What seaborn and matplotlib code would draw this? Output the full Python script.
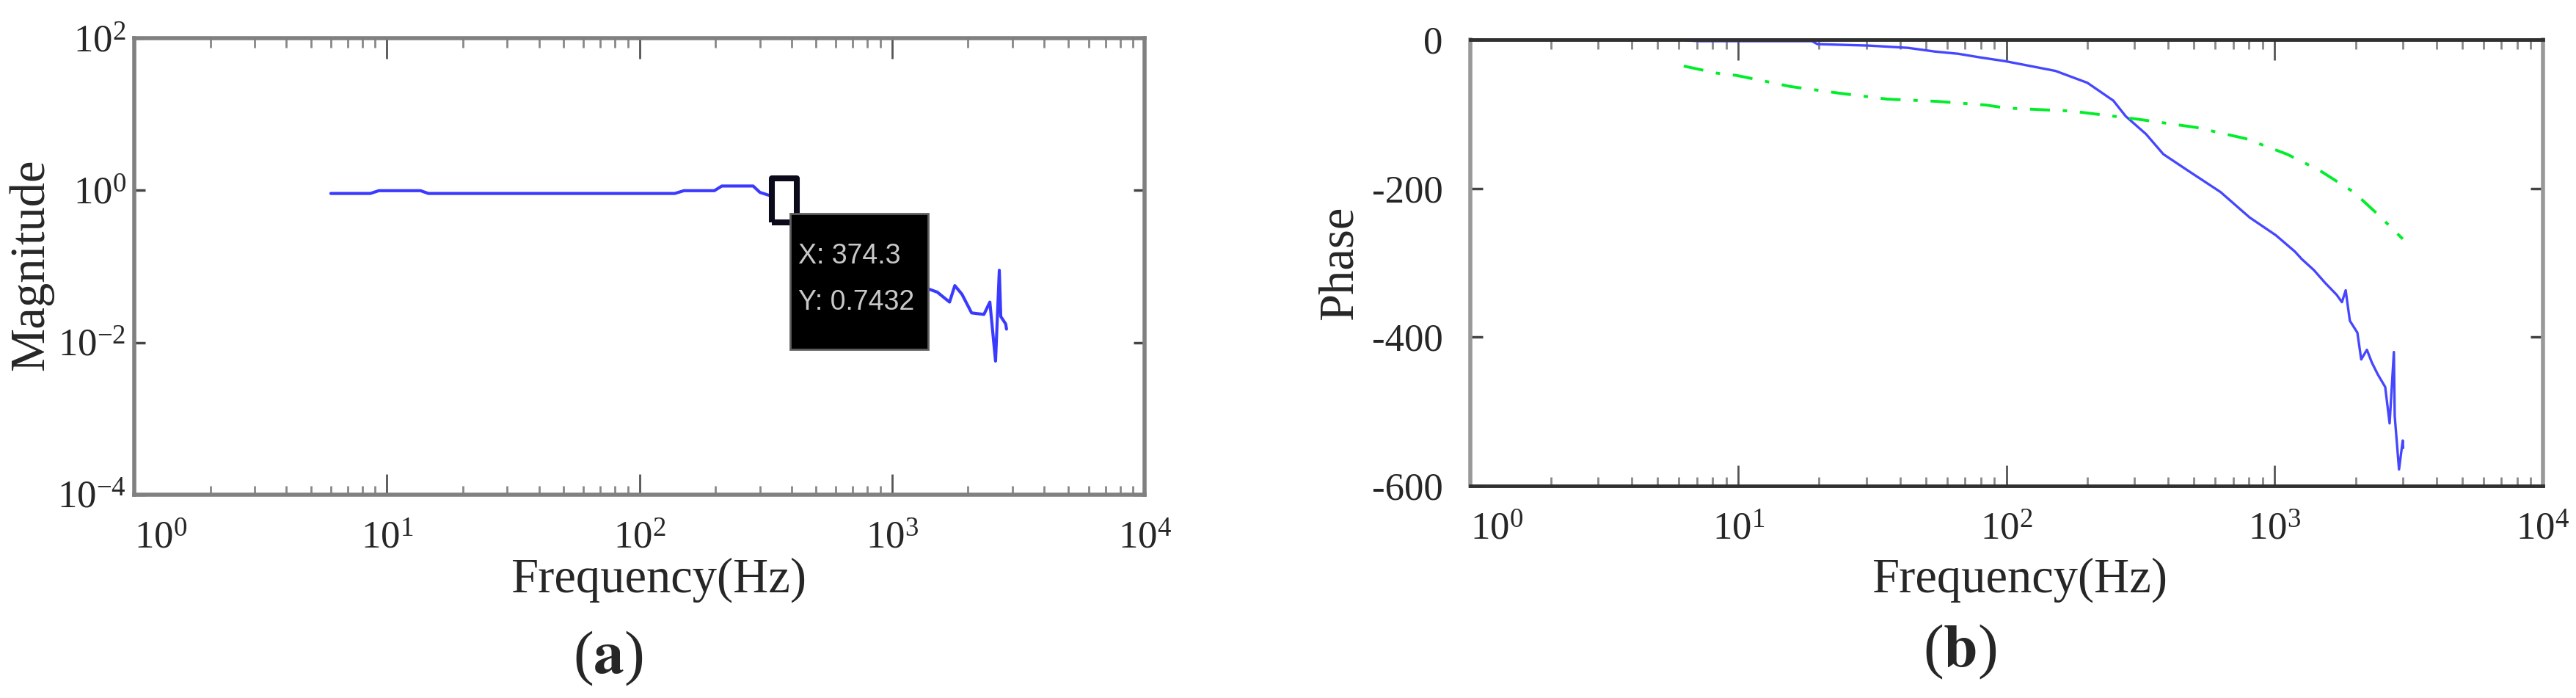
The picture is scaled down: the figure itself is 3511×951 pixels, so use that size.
import matplotlib
matplotlib.use("Agg")
import numpy as np
import matplotlib.pyplot as plt
import matplotlib.ticker as mticker
from matplotlib.patches import Rectangle
import seaborn as sns

# ---- data ----
# (a) magnitude response
mag_freq = [6.0, 8.6, 9.3, 13.6, 14.6, 138, 150, 198, 212, 282, 300, 374.3, 420, 480,
            650, 950, 1340, 1510, 1690, 1773, 1893, 2066, 2312, 2440, 2570, 2660, 2695,
            2820, 2840]
mag_vals = [0.91, 0.91, 0.99, 0.99, 0.91, 0.91, 0.99, 0.99, 1.14, 1.14, 0.94, 0.7432, 0.5, 0.4,
            0.2, 0.09, 0.053, 0.046, 0.034, 0.056, 0.043, 0.0245, 0.0234, 0.034, 0.0057, 0.089, 0.022,
            0.0175, 0.015]
tip_x = 374.3
tip_y = 0.7432

# (b) phase response, measured (blue) and model (green)
ph_freq = [6.4, 7.2, 18.8, 19.7, 30.6, 42.8, 54, 66, 80, 99, 152, 200, 250, 278, 331, 384,
           474, 628, 805, 1009, 1189, 1260, 1400, 1540, 1700, 1780, 1838, 1860, 1905, 2032,
           2100, 2205, 2300, 2420, 2580, 2680, 2780, 2800, 2905, 3000, 3010]
ph_vals = [-1, -2, -2, -6, -8, -11, -16, -19, -24, -29, -42, -58, -82, -103, -127, -154,
           -176, -205, -239, -263, -285, -295, -310, -327, -343, -353, -337, -351, -378, -394,
           -430, -417, -434, -450, -467, -516, -420, -506, -578, -539, -549]
model_freq = [6.25, 8.3, 9.8, 12.6, 15.6, 23.8, 36, 55, 84, 100, 174, 309, 508, 777, 1110,
              1472, 1969, 2440, 3000]
model_vals = [-35.5, -45, -48, -56, -63, -72, -80, -83, -88, -92, -96, -107, -118, -133, -154,
              -176, -205, -236, -268]

x_ticks = [1, 10, 100, 1000, 10000]
mag_ticks = [1e-4, 1e-2, 1, 1e2]
ph_ticks = [-600, -400, -200, 0]

sns.set_style("white")
plt.rcParams["font.family"] = ["Liberation Serif", "DejaVu Serif"]
plt.rcParams["mathtext.fontset"] = "stix"
plt.rcParams["axes.unicode_minus"] = False

fig = plt.figure(figsize=(35.12, 9.51), dpi=100)
ax1 = fig.add_axes([0.0521, 0.2913, 0.3921, 0.6540])
ax2 = fig.add_axes([0.5706, 0.3039, 0.4163, 0.6393])

sns.lineplot(x=mag_freq, y=mag_vals, ax=ax1, color="#3a3aff", lw=3,
             estimator=None, sort=False)
sns.lineplot(x=ph_freq, y=ph_vals, ax=ax2, color="#4646ff", lw=2.4,
             estimator=None, sort=False)
sns.lineplot(x=model_freq, y=model_vals, ax=ax2, color="#00ee2a", lw=2.8,
             linestyle=(0, (7, 4.5, 1.5, 4.5)), estimator=None, sort=False)

# data tip marker + box
rect_marker = [(-0.58, -1), (0.58, -1), (0.58, 1), (-0.58, 1), (-0.58, -1)]
ax1.plot([tip_x], [tip_y], marker=rect_marker, ms=43, mfc="white", mec="#0a0a1a",
         mew=5.8, zorder=5)
ax1.add_patch(Rectangle((0.649, 0.319), 0.137, 0.296, transform=ax1.transAxes,
                        fc="black", ec="#606060", lw=2, zorder=6))
tip_kw = dict(transform=ax1.transAxes, color="#c8c8c8", fontsize=27,
              family=["Liberation Sans", "DejaVu Sans"], va="center", ha="left", zorder=7)
ax1.text(0.657, 0.522, f"X: {tip_x}", **tip_kw)
ax1.text(0.657, 0.421, f"Y: {tip_y}", **tip_kw)

ax1.set_xscale("log")
ax1.set_yscale("log")
ax1.set_xlim(1, 1e4)
ax1.set_ylim(1e-4, 1e2)
ax1.set_yticks(mag_ticks)
ax1.yaxis.set_minor_locator(mticker.NullLocator())

ax2.set_xscale("log")
ax2.set_xlim(1, 1e4)
ax2.set_ylim(-600, 0)
ax2.set_yticks(ph_ticks)

for ax in (ax1, ax2):
    ax.set_xticks(x_ticks)
    ax.xaxis.set_minor_locator(mticker.LogLocator(base=10, subs=np.arange(2, 10)))
    ax.xaxis.set_minor_formatter(mticker.NullFormatter())
    ax.tick_params(axis="x", which="major", direction="in", top=True, bottom=True,
                   length=20, width=2, color="#555555", labelsize=38, pad=26)
    ax.tick_params(axis="x", which="minor", direction="in", top=True, bottom=True,
                   length=9, width=2, color="#888888")

ax1.tick_params(axis="y", which="major", direction="in", left=True, right=True,
                length=11, width=2.5, color="#444444", labelsize=38, pad=8)
ax2.tick_params(axis="y", which="major", direction="in", left=True, right=True,
                length=12, width=2.5, color="#444444", labelsize=38, pad=27)

for s in ax1.spines.values():
    s.set_color("#808080")
    s.set_linewidth(4)
for side in ("left", "right"):
    ax2.spines[side].set_color("#999999")
    ax2.spines[side].set_linewidth(4)
for side in ("top", "bottom"):
    ax2.spines[side].set_color("#303030")
    ax2.spines[side].set_linewidth(3.5)

ax1.set_ylabel("Magnitude", fontsize=48)
ax1.yaxis.set_label_coords(-0.080, 0.503)
ax1.set_xlabel("Frequency(Hz)", fontsize=48)
ax1.xaxis.set_label_coords(0.519, -0.137)
ax2.set_ylabel("Phase", fontsize=48)
ax2.yaxis.set_label_coords(-0.101, 0.50)
ax2.set_xlabel("Frequency(Hz)", fontsize=48)
ax2.xaxis.set_label_coords(0.512, -0.160)

for ax in (ax1, ax2):
    ax.get_xticklabels()[0].set_horizontalalignment("left")

fig.text(0.236, 0.056, r"($\mathbf{a}$)", fontsize=60, ha="center", va="center")
fig.text(0.7605, 0.066, r"($\mathbf{b}$)", fontsize=60, ha="center", va="center")

fig.savefig("out.png", dpi=100, facecolor="white")
